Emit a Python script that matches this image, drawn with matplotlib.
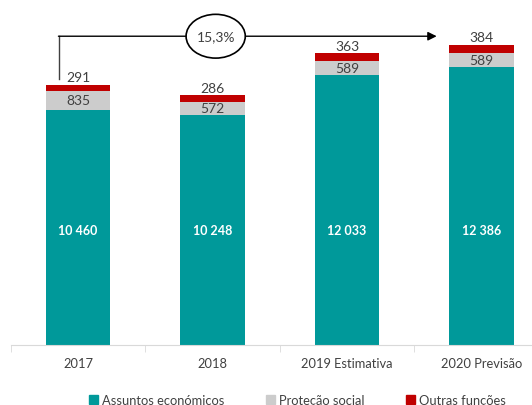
import matplotlib.pyplot as plt
import numpy as np
from matplotlib.patches import Ellipse, Patch

categories = ["2017", "2018", "2019 Estimativa", "2020 Previsão"]
assuntos_economicos = [10460, 10248, 12033, 12386]
protecao_social = [835, 572, 589, 589]
outras_funcoes = [291, 286, 363, 384]
series_names = ["Assuntos económicos", "Proteção social", "Outras funções"]

TEAL = "#00999a"
GREY = "#cccccc"
RED = "#c00000"
TEXT = "#404040"
AXIS = "#d9d9d9"


def fmt(v):
    return f"{v:,}".replace(",", " ")


def main():
    plt.rcParams["font.family"] = ["Lato", "DejaVu Sans"]

    fig = plt.figure(figsize=(5.32, 4.06), dpi=100)
    ax = fig.add_axes([0.0201, 0.1485, 1.0113, 0.8295])

    x = np.arange(len(categories))
    a = np.array(assuntos_economicos)
    p = np.array(protecao_social)
    o = np.array(outras_funcoes)
    width = 0.48

    ax.bar(x, a, width, color=TEAL)
    ax.bar(x, p, width, bottom=a, color=GREY)
    ax.bar(x, o, width, bottom=a + p, color=RED)

    for xi, va_, vp, vo in zip(x, a, p, o):
        ax.text(xi, 5100, fmt(va_), ha="center", va="center", color="white",
                fontsize=9, fontweight="bold")
        ax.text(xi, va_ + vp / 2, fmt(vp), ha="center", va="center", color=TEXT, fontsize=10)
        ax.text(xi, va_ + vp + vo + 60, fmt(vo), ha="center", va="bottom", color=TEXT, fontsize=10)

    ax.set_xlim(-0.5, 3.5)
    ax.set_ylim(0, 15000)
    for side in ["top", "left", "right"]:
        ax.spines[side].set_visible(False)
    ax.spines["bottom"].set_color(AXIS)
    ax.set_yticks([])
    ax.set_xticks(x)
    ax.set_xticklabels(categories, fontsize=9.3, color=TEXT)
    ax.tick_params(axis="x", which="major", length=0, pad=9)
    ax.set_xticks(np.arange(-0.5, len(categories)), minor=True)
    ax.tick_params(axis="x", which="minor", length=5, color=AXIS)

    # growth bracket from 2017 to 2020
    totals = a + p + o
    growth = totals[-1] / totals[0] - 1
    line_y = 13740
    ax.plot([-0.14, -0.14], [11830, line_y], color=TEXT, lw=1, clip_on=False)
    ax.annotate("", xy=(2.667, line_y), xytext=(-0.145, line_y),
                arrowprops=dict(arrowstyle="-|>", color="black", lw=1, mutation_scale=13,
                                shrinkA=0, shrinkB=0),
                annotation_clip=False)
    ax.add_patch(Ellipse((1.024, line_y), 0.44, 1950, facecolor="white", edgecolor="black",
                         lw=1.2, zorder=5, clip_on=False))
    ax.text(1.024, line_y, f"{growth * 100:.1f}%".replace(".", ","), ha="center", va="center",
            fontsize=10, color=TEXT, zorder=6)

    handles = [Patch(color=c) for c in (TEAL, GREY, RED)]
    fig.legend(handles, series_names, loc="center", bbox_to_anchor=(0.559, 0.012), ncol=3,
               frameon=False, fontsize=9.3, handlelength=0.7, handleheight=0.7,
               handletextpad=0.3, columnspacing=3.2, labelcolor=TEXT)

    fig.savefig("out.png", dpi=100)
    plt.close(fig)


if __name__ == "__main__":
    main()
